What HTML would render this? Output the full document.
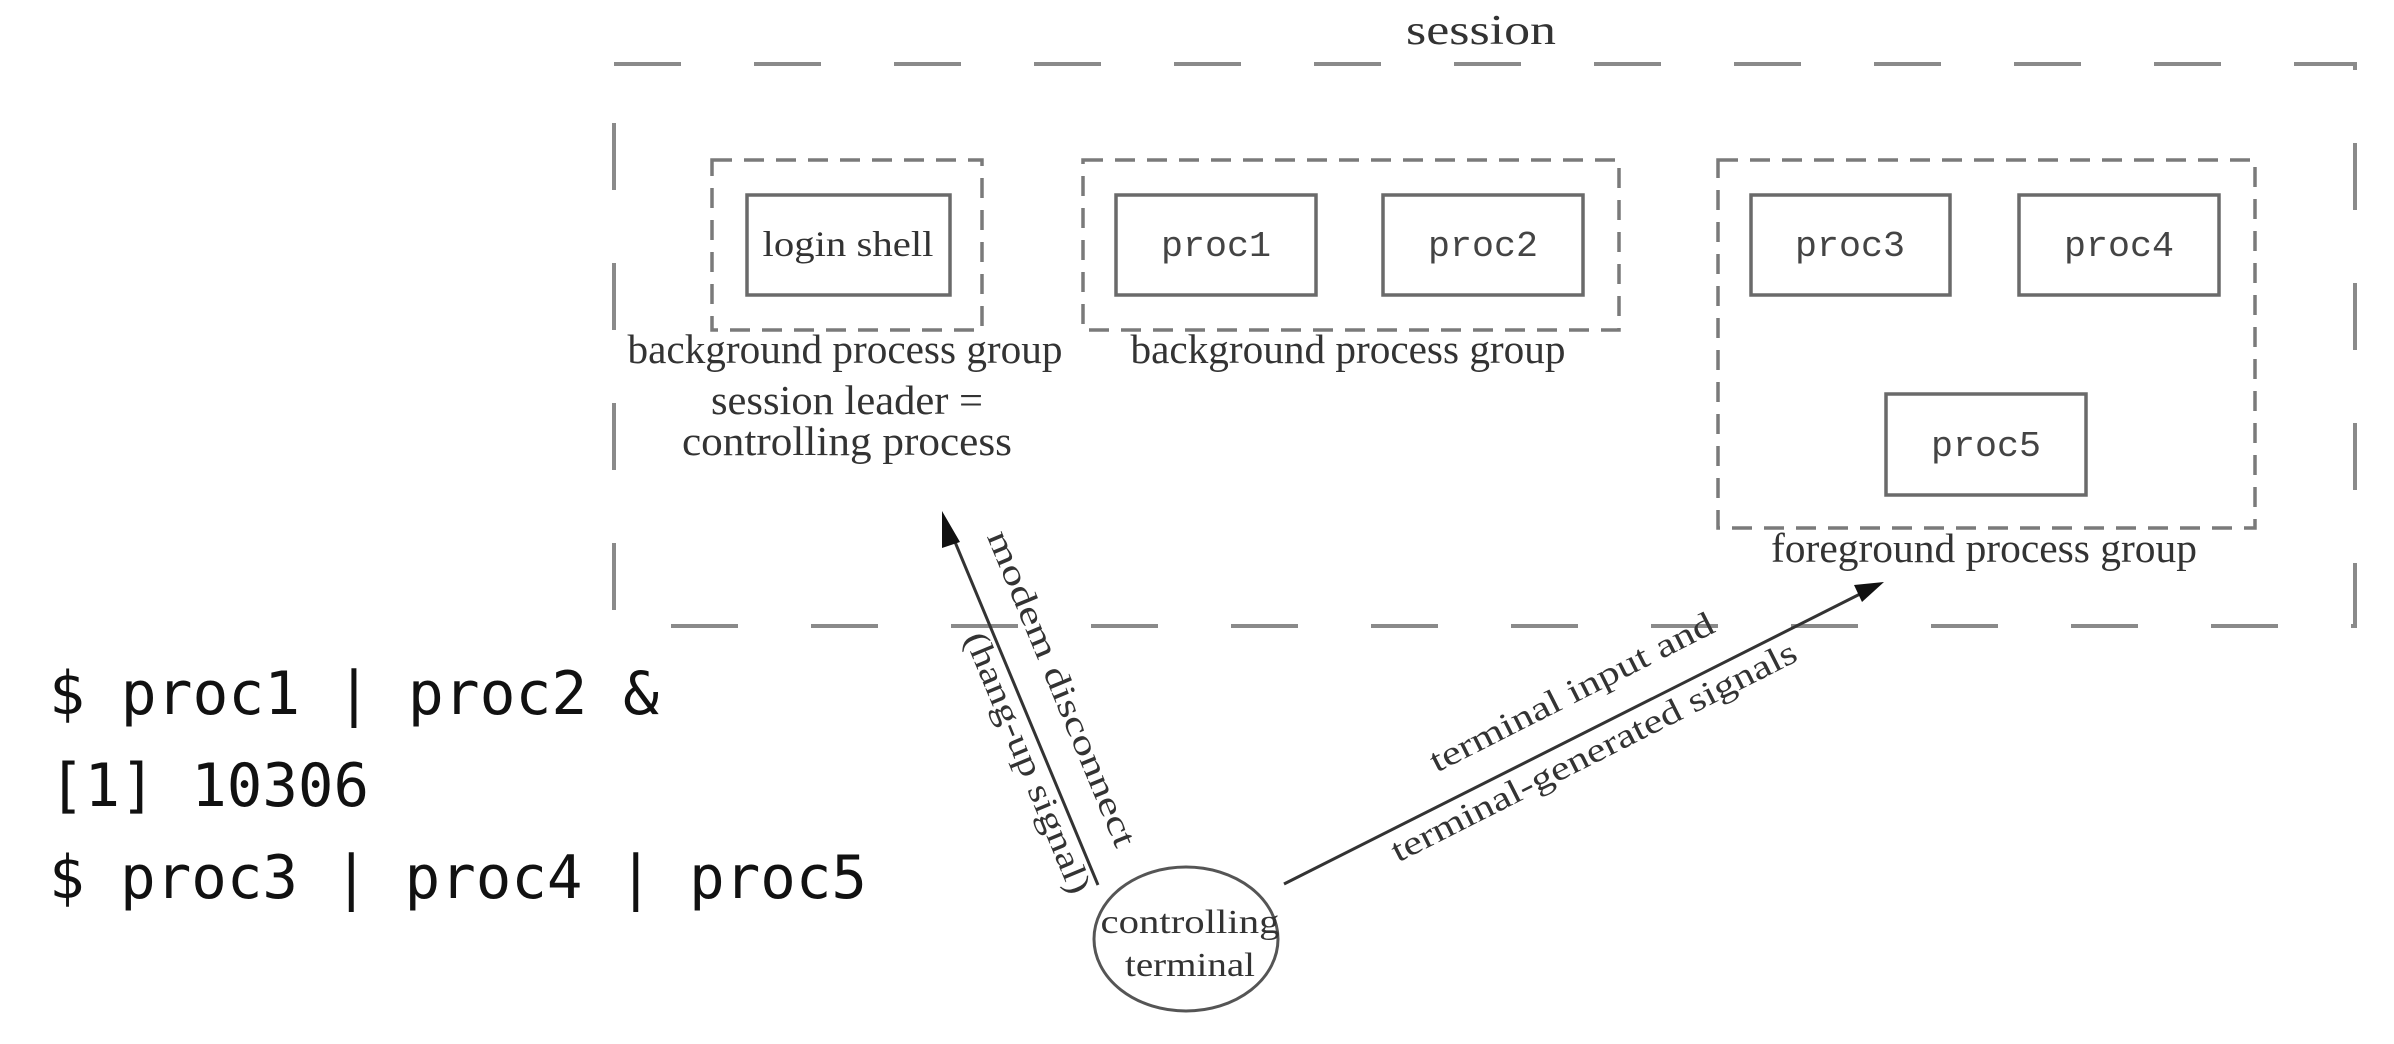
<!DOCTYPE html>
<html><head><meta charset="utf-8"><style>
html,body{margin:0;padding:0;background:#fff;}
svg{display:block;}
.s{font-family:"Liberation Serif",serif;fill:#333;}
.m{font-family:"Liberation Mono",monospace;fill:#444;}
</style></head><body>
<svg width="2394" height="1044" viewBox="0 0 2394 1044" xmlns="http://www.w3.org/2000/svg">
<!-- outer session box -->
<rect x="614" y="64" width="1741" height="562" fill="none" stroke="#8a8a8a" stroke-width="4" stroke-dasharray="67 73"/>
<text class="s" x="1481" y="44" font-size="42" text-anchor="middle" textLength="150" lengthAdjust="spacingAndGlyphs">session</text>

<!-- groups -->
<g fill="none" stroke="#7a7a7a" stroke-width="3.5" stroke-dasharray="20 12">
<rect x="712" y="160" width="270" height="170"/>
<rect x="1083" y="160" width="536" height="170"/>
<rect x="1718" y="160" width="537" height="368"/>
</g>
<g fill="#fff" stroke="#6a6a6a" stroke-width="3.5">
<rect x="747" y="195" width="203" height="100"/>
<rect x="1116" y="195" width="200" height="100"/>
<rect x="1383" y="195" width="200" height="100"/>
<rect x="1751" y="195" width="199" height="100"/>
<rect x="2019" y="195" width="200" height="100"/>
<rect x="1886" y="394" width="200" height="101"/>
</g>
<text class="s" x="848" y="256" font-size="36" text-anchor="middle" textLength="171" lengthAdjust="spacingAndGlyphs">login shell</text>
<g class="m" font-size="36" text-anchor="middle">
<text x="1216" y="256" textLength="110" lengthAdjust="spacingAndGlyphs">proc1</text>
<text x="1483" y="256" textLength="110" lengthAdjust="spacingAndGlyphs">proc2</text>
<text x="1850" y="256" textLength="110" lengthAdjust="spacingAndGlyphs">proc3</text>
<text x="2119" y="256" textLength="110" lengthAdjust="spacingAndGlyphs">proc4</text>
<text x="1986" y="456" textLength="110" lengthAdjust="spacingAndGlyphs">proc5</text>
</g>
<g class="s" font-size="41" text-anchor="middle">
<text x="845" y="363" textLength="435" lengthAdjust="spacingAndGlyphs">background process group</text>
<text x="1348" y="363" textLength="435" lengthAdjust="spacingAndGlyphs">background process group</text>
<text x="847" y="414" textLength="272" lengthAdjust="spacingAndGlyphs">session leader =</text>
<text x="847" y="455" textLength="330" lengthAdjust="spacingAndGlyphs">controlling process</text>
<text x="1984" y="562" textLength="426" lengthAdjust="spacingAndGlyphs">foreground process group</text>
</g>

<!-- arrows -->
<g stroke="#333" stroke-width="3" fill="none">
<line x1="1098" y1="885" x2="950" y2="530"/>
<line x1="1284" y1="884" x2="1868" y2="590"/>
</g>
<polygon points="942,511 960,542 942,548" fill="#111"/>
<polygon points="1884,582 1862,602 1854,585" fill="#111"/>

<!-- arrow labels -->
<g class="s" font-size="34" text-anchor="middle">
<text transform="translate(1046,695) rotate(67.5)" x="0" y="0" dy="-6" textLength="339" lengthAdjust="spacingAndGlyphs">modem disconnect</text>
<text transform="translate(1027,763) rotate(67.5)" x="0" y="0" dy="10" textLength="280" lengthAdjust="spacingAndGlyphs">(hang-up signal)</text>
<text transform="translate(1573,695) rotate(-26.8)" x="0" y="0" dy="8" textLength="314" lengthAdjust="spacingAndGlyphs">terminal input and</text>
<text transform="translate(1596,756) rotate(-26.8)" x="0" y="0" dy="6" textLength="450" lengthAdjust="spacingAndGlyphs">terminal-generated signals</text>
</g>

<!-- ellipse -->
<ellipse cx="1186" cy="939" rx="92" ry="72" fill="#fff" stroke="#555" stroke-width="3"/>
<text class="s" x="1190" y="933" font-size="34" text-anchor="middle" textLength="179" lengthAdjust="spacingAndGlyphs">controlling</text>
<text class="s" x="1190" y="976" font-size="34" text-anchor="middle" textLength="130" lengthAdjust="spacingAndGlyphs">terminal</text>

<!-- shell commands -->
<g font-family="'DejaVu Sans Mono','Liberation Mono',monospace" font-size="60" fill="#111">
<text x="49" y="714" textLength="610" lengthAdjust="spacingAndGlyphs">$ proc1 | proc2 &amp;</text>
<text x="49" y="806" textLength="320" lengthAdjust="spacingAndGlyphs">[1] 10306</text>
<text x="49" y="898" textLength="818" lengthAdjust="spacingAndGlyphs">$ proc3 | proc4 | proc5</text>
</g>
</svg>
</body></html>
